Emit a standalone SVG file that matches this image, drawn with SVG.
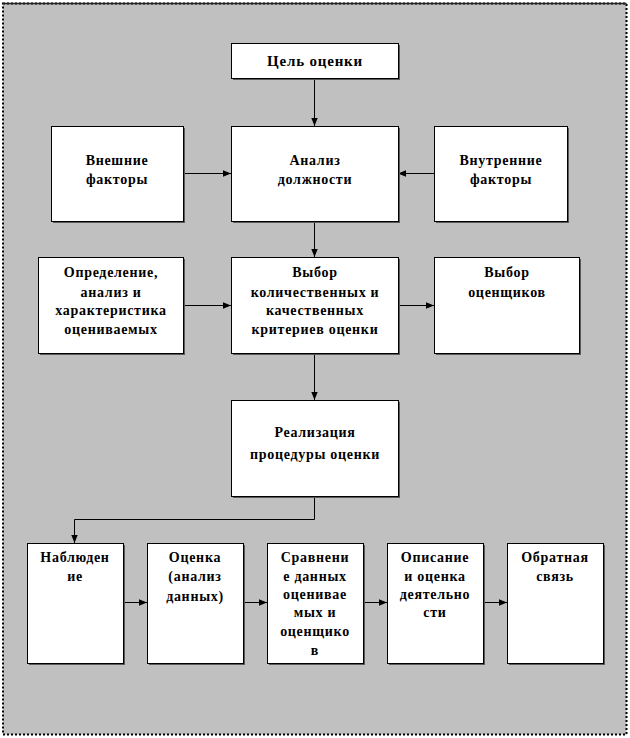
<svg xmlns="http://www.w3.org/2000/svg" width="630" height="738" viewBox="0 0 630 738">
<defs>
<style>
.frame{fill:#c0c0c0;stroke:#000;stroke-width:2;stroke-dasharray:2 2}
.sh{fill:#5a5a5a}
.box{fill:#fff;stroke:#000;stroke-width:1}
.t{font-family:"Liberation Serif","Times New Roman",serif;font-weight:bold;font-size:14px;letter-spacing:0.7px;fill:#000;text-anchor:middle}
.g{font-size:15px;letter-spacing:0.8px}
.c{fill:none;stroke:#000;stroke-width:1}
</style>
<marker id="ah" viewBox="0 0 8 8" refX="8" refY="4" markerWidth="8" markerHeight="8" markerUnits="userSpaceOnUse" orient="auto">
<path d="M0,0.8 L8,4 L0,7.2 Z" fill="#000"/>
</marker>
</defs>
<rect x="0" y="0" width="630" height="738" fill="#fff"/>
<rect class="frame" x="3" y="3.5" width="623.5" height="731"/>
<line x1="3" y1="3.5" x2="626.5" y2="3.5" stroke="#222" stroke-width="1.5"/>

<g id="connectors">
<line class="c" x1="314.5" y1="78" x2="314.5" y2="126" marker-end="url(#ah)"/>
<line class="c" x1="183" y1="173.5" x2="231" y2="173.5" marker-end="url(#ah)"/>
<line class="c" x1="434" y1="173.5" x2="398" y2="173.5" marker-end="url(#ah)"/>
<line class="c" x1="314.5" y1="221" x2="314.5" y2="257" marker-end="url(#ah)"/>
<line class="c" x1="183" y1="305.5" x2="231" y2="305.5" marker-end="url(#ah)"/>
<line class="c" x1="398" y1="305.5" x2="434" y2="305.5" marker-end="url(#ah)"/>
<line class="c" x1="314.5" y1="353" x2="314.5" y2="400" marker-end="url(#ah)"/>
<polyline class="c" points="314.5,496 314.5,519.5 74.5,519.5 74.5,543" marker-end="url(#ah)"/>
<line class="c" x1="123" y1="602.5" x2="147" y2="602.5" marker-end="url(#ah)"/>
<line class="c" x1="243" y1="602.5" x2="267" y2="602.5" marker-end="url(#ah)"/>
<line class="c" x1="363" y1="602.5" x2="387" y2="602.5" marker-end="url(#ah)"/>
<line class="c" x1="483" y1="602.5" x2="507" y2="602.5" marker-end="url(#ah)"/>
</g>

<g id="n-goal">
<rect class="sh" x="233" y="45" width="167" height="35"/>
<rect class="box" x="231.5" y="43.5" width="167" height="35"/>
<text class="t g" x="315" y="65.5">Цель оценки</text>
</g>

<g id="n-external">
<rect class="sh" x="53" y="128" width="132" height="95"/>
<rect class="box" x="51.5" y="126.5" width="132" height="95"/>
<text class="t" x="117" y="165">Внешние</text>
<text class="t" x="117" y="184">факторы</text>
</g>

<g id="n-analysis">
<rect class="sh" x="233" y="128" width="167" height="95"/>
<rect class="box" x="231.5" y="126.5" width="167" height="95"/>
<text class="t" x="315" y="165">Анализ</text>
<text class="t" x="315" y="184">должности</text>
</g>

<g id="n-internal">
<rect class="sh" x="436" y="128" width="133" height="95"/>
<rect class="box" x="434.5" y="126.5" width="133" height="95"/>
<text class="t" x="501" y="165">Внутренние</text>
<text class="t" x="501" y="184">факторы</text>
</g>

<g id="n-define">
<rect class="sh" x="40" y="259" width="145" height="96"/>
<rect class="box" x="38.5" y="257.5" width="145" height="96"/>
<text class="t" x="111" y="277">Определение,</text>
<text class="t" x="111" y="297">анализ и</text>
<text class="t" x="111" y="315">характеристика</text>
<text class="t" x="111" y="334">оцениваемых</text>
</g>

<g id="n-criteria">
<rect class="sh" x="233" y="259" width="167" height="96"/>
<rect class="box" x="231.5" y="257.5" width="167" height="96"/>
<text class="t" x="315" y="277">Выбор</text>
<text class="t" x="315" y="297">количественных и</text>
<text class="t" x="315" y="315">качественных</text>
<text class="t" x="315" y="334">критериев оценки</text>
</g>

<g id="n-assessors">
<rect class="sh" x="436" y="259" width="145" height="96"/>
<rect class="box" x="434.5" y="257.5" width="145" height="96"/>
<text class="t" x="507" y="277">Выбор</text>
<text class="t" x="507" y="297">оценщиков</text>
</g>

<g id="n-implement">
<rect class="sh" x="233" y="402" width="167" height="96"/>
<rect class="box" x="231.5" y="400.5" width="167" height="96"/>
<text class="t" x="315" y="437">Реализация</text>
<text class="t" x="315" y="459">процедуры оценки</text>
</g>

<g id="n-observe">
<rect class="sh" x="29" y="545" width="96" height="120"/>
<rect class="box" x="27.5" y="543.5" width="96" height="120"/>
<text class="t" x="75" y="562">Наблюден</text>
<text class="t" x="75" y="581">ие</text>
</g>

<g id="n-eval">
<rect class="sh" x="149" y="545" width="96" height="120"/>
<rect class="box" x="147.5" y="543.5" width="96" height="120"/>
<text class="t" x="195" y="562">Оценка</text>
<text class="t" x="195" y="581">(анализ</text>
<text class="t" x="195" y="601">данных)</text>
</g>

<g id="n-compare">
<rect class="sh" x="269" y="545" width="96" height="120"/>
<rect class="box" x="267.5" y="543.5" width="96" height="120"/>
<text class="t" x="315" y="562">Сравнени</text>
<text class="t" x="315" y="581">е данных</text>
<text class="t" x="315" y="599">оценивае</text>
<text class="t" x="315" y="617">мых и</text>
<text class="t" x="315" y="636">оценщико</text>
<text class="t" x="315" y="655">в</text>
</g>

<g id="n-describe">
<rect class="sh" x="389" y="545" width="96" height="120"/>
<rect class="box" x="387.5" y="543.5" width="96" height="120"/>
<text class="t" x="435" y="562">Описание</text>
<text class="t" x="435" y="581">и оценка</text>
<text class="t" x="435" y="599">деятельно</text>
<text class="t" x="435" y="617">сти</text>
</g>

<g id="n-feedback">
<rect class="sh" x="509" y="545" width="96" height="120"/>
<rect class="box" x="507.5" y="543.5" width="96" height="120"/>
<text class="t" x="555" y="562">Обратная</text>
<text class="t" x="555" y="581">связь</text>
</g>
</svg>
